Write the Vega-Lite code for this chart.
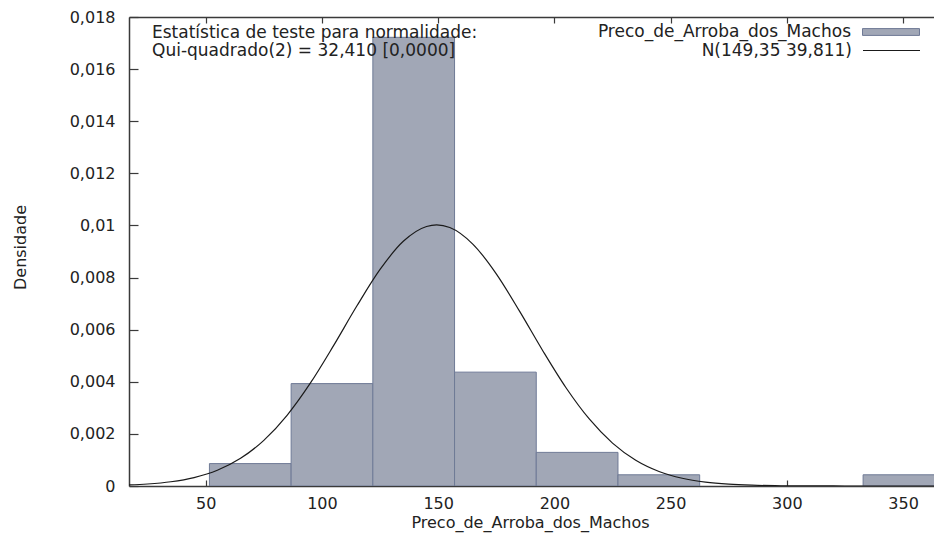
{
  "$schema": "https://vega.github.io/schema/vega-lite/v6.json",
  "width": 805,
  "height": 469,
  "autosize": {"type": "none"},
  "padding": {"left": 129, "top": 17, "right": 0, "bottom": 48},
  "background": "white",
  "config": {
    "locale": {"number": {"decimal": ",", "thousands": ".", "grouping": [3], "currency": ["", ""]}},
    "view": {"stroke": null},
    "font": "DejaVu Sans",
    "axis": {
      "labelFont": "DejaVu Sans", "labelFontSize": 16, "labelColor": "#222",
      "domainColor": "#3a3a3a", "domainWidth": 1.5, "tickColor": "#3a3a3a", "tickWidth": 1.2,
      "grid": false, "titleFont": "DejaVu Sans", "titleFontWeight": "normal", "titleColor": "#222", "titleFontSize": 16
    },
    "legend": {"labelFont": "DejaVu Sans", "labelFontSize": 17, "labelColor": "#222", "labelLimit": 400}
  },
  "title": {
    "text": ["Estatística de teste para normalidade:", "Qui-quadrado(2) = 32,410 [0,0000]"],
    "anchor": "start", "frame": "group", "orient": "top", "offset": -74, "dx": 23,
    "fontSize": 17, "fontWeight": "normal", "font": "DejaVu Sans", "color": "#222", "lineHeight": 18, "baseline": "bottom"
  },
  "datasets": {
    "bins": [
      {"inicio": 51.6, "fim": 86.75, "densidade": 0.00086, "serie": "Preco_de_Arroba_dos_Machos"},
      {"inicio": 86.75, "fim": 121.9, "densidade": 0.00393, "serie": "Preco_de_Arroba_dos_Machos"},
      {"inicio": 121.9, "fim": 157.05, "densidade": 0.01722, "serie": "Preco_de_Arroba_dos_Machos"},
      {"inicio": 157.05, "fim": 192.2, "densidade": 0.00437, "serie": "Preco_de_Arroba_dos_Machos"},
      {"inicio": 192.2, "fim": 227.35, "densidade": 0.00129, "serie": "Preco_de_Arroba_dos_Machos"},
      {"inicio": 227.35, "fim": 262.5, "densidade": 0.00043, "serie": "Preco_de_Arroba_dos_Machos"},
      {"inicio": 332.8, "fim": 367.95, "densidade": 0.00043, "serie": "Preco_de_Arroba_dos_Machos"}
    ],
    "curva": [
      {"x": 15, "densidade": 0.0000337, "serie": "N(149,35 39,811)"},
      {"x": 25, "densidade": 0.0000763, "serie": "N(149,35 39,811)"},
      {"x": 35, "densidade": 0.000162, "serie": "N(149,35 39,811)"},
      {"x": 45, "densidade": 0.000323, "serie": "N(149,35 39,811)"},
      {"x": 55, "densidade": 0.000604, "serie": "N(149,35 39,811)"},
      {"x": 65, "densidade": 0.001062, "serie": "N(149,35 39,811)"},
      {"x": 75, "densidade": 0.001752, "serie": "N(149,35 39,811)"},
      {"x": 85, "densidade": 0.002714, "serie": "N(149,35 39,811)"},
      {"x": 95, "densidade": 0.003946, "serie": "N(149,35 39,811)"},
      {"x": 105, "densidade": 0.005388, "serie": "N(149,35 39,811)"},
      {"x": 115, "densidade": 0.006906, "serie": "N(149,35 39,811)"},
      {"x": 125, "densidade": 0.008311, "serie": "N(149,35 39,811)"},
      {"x": 135, "densidade": 0.009391, "serie": "N(149,35 39,811)"},
      {"x": 145, "densidade": 0.009961, "serie": "N(149,35 39,811)"},
      {"x": 149.35, "densidade": 0.010021, "serie": "N(149,35 39,811)"},
      {"x": 155, "densidade": 0.009921, "serie": "N(149,35 39,811)"},
      {"x": 165, "densidade": 0.009276, "serie": "N(149,35 39,811)"},
      {"x": 175, "densidade": 0.008143, "serie": "N(149,35 39,811)"},
      {"x": 185, "densidade": 0.006711, "serie": "N(149,35 39,811)"},
      {"x": 195, "densidade": 0.005193, "serie": "N(149,35 39,811)"},
      {"x": 205, "densidade": 0.003772, "serie": "N(149,35 39,811)"},
      {"x": 215, "densidade": 0.002573, "serie": "N(149,35 39,811)"},
      {"x": 225, "densidade": 0.001647, "serie": "N(149,35 39,811)"},
      {"x": 235, "densidade": 0.000990, "serie": "N(149,35 39,811)"},
      {"x": 245, "densidade": 0.000559, "serie": "N(149,35 39,811)"},
      {"x": 255, "densidade": 0.000296, "serie": "N(149,35 39,811)"},
      {"x": 265, "densidade": 0.000147, "serie": "N(149,35 39,811)"},
      {"x": 275, "densidade": 0.0000688, "serie": "N(149,35 39,811)"},
      {"x": 285, "densidade": 0.0000302, "serie": "N(149,35 39,811)"},
      {"x": 295, "densidade": 0.0000124, "serie": "N(149,35 39,811)"},
      {"x": 305, "densidade": 0.0000048, "serie": "N(149,35 39,811)"},
      {"x": 315, "densidade": 0.0000017, "serie": "N(149,35 39,811)"},
      {"x": 325, "densidade": 0.0000006, "serie": "N(149,35 39,811)"},
      {"x": 335, "densidade": 0.0000002, "serie": "N(149,35 39,811)"},
      {"x": 345, "densidade": 0.0000001, "serie": "N(149,35 39,811)"},
      {"x": 355, "densidade": 0, "serie": "N(149,35 39,811)"},
      {"x": 365, "densidade": 0, "serie": "N(149,35 39,811)"}
    ]
  },
  "layer": [
    {
      "data": {"name": "bins"},
      "mark": {"type": "rect", "clip": true, "stroke": "#6f7a96", "strokeWidth": 1},
      "encoding": {
        "x": {
          "field": "inicio", "type": "quantitative",
          "scale": {"domain": [17, 363.3], "nice": false, "zero": false},
          "axis": {
            "orient": "bottom", "values": [50, 100, 150, 200, 250, 300, 350],
            "ticks": false, "labelPadding": 9, "title": "Preco_de_Arroba_dos_Machos",
            "titleX": 401, "titleY": 36, "titleBaseline": "middle", "titleAnchor": null, "titleAlign": "center"
          }
        },
        "x2": {"field": "fim"},
        "y": {
          "field": "densidade", "type": "quantitative",
          "scale": {"domain": [0, 0.018], "nice": false},
          "axis": {
            "orient": "left", "title": "Densidade", "values": [0, 0.002, 0.004, 0.006, 0.008, 0.01, 0.012, 0.014, 0.016, 0.018],
            "format": "~g", "ticks": false, "labelPadding": 14,
            "titleX": -109, "titleY": 230, "titleAngle": -90, "titleAlign": "center", "titleBaseline": "middle"
          }
        },
        "y2": {"datum": 0},
        "fill": {
          "field": "serie", "type": "nominal",
          "scale": {"range": ["#a1a7b6"]},
          "legend": {
            "orient": "none", "legendX": 733, "legendY": -14, "title": null, "padding": 0,
            "symbolType": "M-1,-0.12H1V0.12H-1Z", "symbolSize": 3249,
            "symbolStrokeColor": "#6f7a96", "symbolStrokeWidth": 1, "symbolOpacity": 1,
            "labelAlign": "right", "labelOffset": -69
          }
        }
      }
    },
    {
      "data": {"name": "curva"},
      "mark": {"type": "line", "clip": true, "interpolate": "monotone", "strokeWidth": 1.2},
      "encoding": {
        "x": {
          "field": "x", "type": "quantitative",
          "scale": {"domain": [17, 363.3], "nice": false, "zero": false},
          "axis": {"orient": "top", "values": [50, 100, 150, 200, 250, 300, 350], "labels": false, "ticks": false, "title": null}
        },
        "y": {
          "field": "densidade", "type": "quantitative",
          "scale": {"domain": [0, 0.018], "nice": false},
          "axis": {
            "orient": "left", "offset": -9, "values": [0, 0.002, 0.004, 0.006, 0.008, 0.01, 0.012, 0.014, 0.016, 0.018],
            "domain": false, "labels": false, "tickSize": 9, "title": null
          }
        },
        "stroke": {
          "field": "serie", "type": "nominal",
          "scale": {"range": ["#1a1a1a"]},
          "legend": {
            "orient": "none", "legendX": 733, "legendY": 4, "title": null, "padding": 0,
            "symbolType": "stroke", "symbolSize": 3249, "symbolStrokeWidth": 1.2,
            "labelAlign": "right", "labelOffset": -69
          }
        }
      }
    },
    {
      "data": {"name": "curva"},
      "mark": {"type": "line", "clip": true, "opacity": 0},
      "encoding": {
        "x": {
          "field": "x", "type": "quantitative",
          "scale": {"domain": [17, 363.3], "nice": false, "zero": false},
          "axis": {"orient": "bottom", "offset": -6, "values": [50, 100, 150, 200, 250, 300, 350], "domain": false, "labels": false, "tickSize": 6, "title": null}
        },
        "y": {
          "field": "densidade", "type": "quantitative",
          "scale": {"domain": [0, 0.018], "nice": false},
          "axis": null
        }
      }
    },
    {
      "data": {"name": "curva"},
      "mark": {"type": "line", "clip": true, "opacity": 0},
      "encoding": {
        "x": {
          "field": "x", "type": "quantitative",
          "scale": {"domain": [17, 363.3], "nice": false, "zero": false},
          "axis": {"orient": "top", "offset": -6, "values": [50, 100, 150, 200, 250, 300, 350], "domain": false, "labels": false, "tickSize": 6, "title": null}
        },
        "y": {
          "field": "densidade", "type": "quantitative",
          "scale": {"domain": [0, 0.018], "nice": false},
          "axis": null
        }
      }
    }
  ],
  "resolve": {"scale": {"x": "independent", "y": "independent"}, "axis": {"x": "independent", "y": "independent"}}
}
